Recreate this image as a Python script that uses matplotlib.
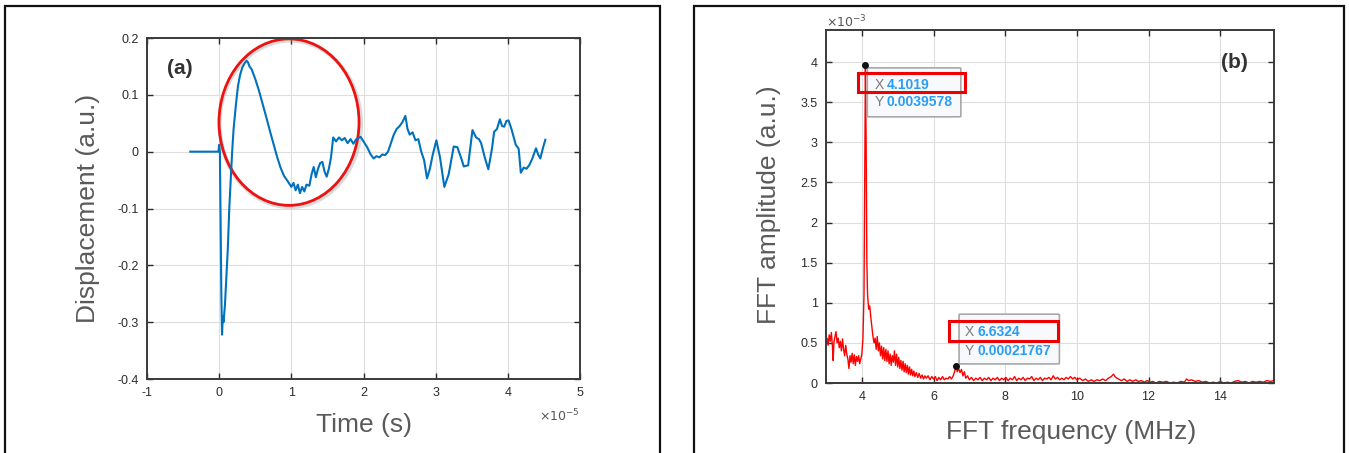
import matplotlib
matplotlib.use("Agg")
import matplotlib.pyplot as plt
from matplotlib import font_manager
from matplotlib.patches import Ellipse, Rectangle, FancyBboxPatch

# ---- data (a): displacement vs time, time in units of 1e-5 s
time_a = [-0.40, -0.01, 0.0, 0.01, 0.03, 0.04, 0.05, 0.06, 0.08, 0.10, 0.12, 0.14, 0.16, 0.18,
          0.20, 0.23, 0.26, 0.29, 0.32, 0.35, 0.38, 0.40, 0.42, 0.45, 0.50, 0.55, 0.60, 0.65,
          0.70, 0.75, 0.80, 0.85, 0.90, 0.95, 1.00, 1.03, 1.06, 1.09, 1.12, 1.15, 1.18, 1.21,
          1.25, 1.28, 1.31, 1.34, 1.37, 1.40, 1.43, 1.46, 1.49, 1.52, 1.55, 1.58, 1.62, 1.66,
          1.70, 1.74, 1.78, 1.82, 1.86, 1.90, 1.96, 2.00, 2.05, 2.10, 2.14, 2.18, 2.22, 2.26,
          2.30, 2.34, 2.38, 2.42, 2.46, 2.50, 2.54, 2.58, 2.61, 2.64, 2.68, 2.72, 2.76, 2.80,
          2.84, 2.88, 2.92, 2.96, 3.01, 3.06, 3.12, 3.18, 3.25, 3.30, 3.35, 3.39, 3.45, 3.51,
          3.56, 3.60, 3.63, 3.68, 3.73, 3.78, 3.81, 3.85, 3.89, 3.92, 3.95, 3.98, 4.01, 4.05,
          4.11, 4.15, 4.18, 4.22, 4.26, 4.30, 4.34, 4.39, 4.42, 4.45, 4.49, 4.52]
disp_a = [0.0, 0.0, 0.012, 0.0, -0.25, -0.322, -0.29, -0.30, -0.27, -0.22, -0.17, -0.10, -0.05, 0.0,
          0.04, 0.08, 0.115, 0.135, 0.148, 0.155, 0.160, 0.157, 0.150, 0.145, 0.128, 0.108, 0.085, 0.062,
          0.038, 0.015, -0.008, -0.028, -0.043, -0.052, -0.062, -0.055, -0.068, -0.058, -0.073, -0.062, -0.070, -0.058,
          -0.060, -0.040, -0.027, -0.045, -0.030, -0.020, -0.018, -0.035, -0.044, -0.030, -0.010, 0.025, 0.018, 0.025,
          0.020, 0.024, 0.015, 0.022, 0.014, 0.022, 0.026, 0.018, 0.008, -0.005, -0.012, -0.008, -0.010, -0.005,
          -0.006, 0.000, 0.015, 0.030, 0.040, 0.045, 0.052, 0.063, 0.040, 0.030, 0.034, 0.020, 0.022, 0.000,
          -0.015, -0.047, -0.030, -0.005, 0.020, -0.010, -0.062, -0.040, 0.009, 0.008, -0.010, -0.026, -0.024, 0.038,
          0.025, 0.022, 0.015, -0.010, -0.031, 0.005, 0.035, 0.040, 0.057, 0.045, 0.044, 0.054, 0.055, 0.040,
          0.012, 0.005, -0.037, -0.028, -0.030, -0.023, -0.012, 0.006, -0.005, -0.012, 0.008, 0.021]

# ---- data (b): FFT spectrum, (frequency MHz, amplitude in units of 1e-3)
fft_points = [
    (3.00, 0.50), (3.03, 0.56), (3.06, 0.47), (3.09, 0.60), (3.12, 0.52), (3.15, 0.63), (3.18, 0.45),
    (3.20, 0.28), (3.22, 0.50), (3.25, 0.58), (3.28, 0.64), (3.31, 0.50), (3.34, 0.56), (3.37, 0.44),
    (3.40, 0.52), (3.43, 0.40), (3.46, 0.55), (3.49, 0.42), (3.52, 0.34), (3.55, 0.47), (3.58, 0.36),
    (3.61, 0.30), (3.64, 0.18), (3.67, 0.34), (3.70, 0.26), (3.73, 0.37), (3.76, 0.24), (3.79, 0.35),
    (3.82, 0.22), (3.85, 0.33), (3.88, 0.27), (3.91, 0.34), (3.94, 0.24), (3.97, 0.30), (4.00, 0.36),
    (4.03, 0.55), (4.06, 1.10), (4.08, 2.50), (4.10, 3.96), (4.12, 3.00), (4.14, 1.50), (4.16, 1.10),
    (4.19, 0.92), (4.22, 0.96), (4.25, 0.82), (4.28, 0.70), (4.31, 0.58), (4.34, 0.50), (4.37, 0.56),
    (4.40, 0.42), (4.43, 0.58), (4.46, 0.40), (4.49, 0.50), (4.52, 0.34), (4.55, 0.46), (4.58, 0.30),
    (4.61, 0.44), (4.64, 0.28), (4.67, 0.42), (4.70, 0.27), (4.73, 0.40), (4.76, 0.24), (4.79, 0.36),
    (4.82, 0.22), (4.85, 0.34), (4.88, 0.26), (4.91, 0.40), (4.94, 0.22), (4.97, 0.36), (5.00, 0.20),
    (5.03, 0.32), (5.06, 0.18), (5.09, 0.28), (5.12, 0.16), (5.15, 0.27), (5.18, 0.14), (5.21, 0.24),
    (5.24, 0.13), (5.27, 0.22), (5.30, 0.11), (5.33, 0.20), (5.36, 0.10), (5.39, 0.17), (5.42, 0.09),
    (5.45, 0.15), (5.48, 0.08), (5.52, 0.13), (5.56, 0.07), (5.60, 0.12), (5.64, 0.06), (5.68, 0.10),
    (5.72, 0.05), (5.76, 0.09), (5.80, 0.06), (5.85, 0.09), (5.90, 0.04), (5.95, 0.08), (6.00, 0.05),
    (6.05, 0.08), (6.10, 0.03), (6.15, 0.07), (6.20, 0.04), (6.25, 0.08), (6.30, 0.04), (6.35, 0.06),
    (6.40, 0.05), (6.45, 0.08), (6.50, 0.05), (6.55, 0.09), (6.60, 0.16), (6.63, 0.22), (6.66, 0.14),
    (6.70, 0.18), (6.74, 0.13), (6.78, 0.17), (6.82, 0.09), (6.86, 0.14), (6.90, 0.06), (6.95, 0.09),
    (7.00, 0.04), (7.06, 0.07), (7.12, 0.03), (7.18, 0.06), (7.24, 0.04), (7.30, 0.07), (7.36, 0.03),
    (7.42, 0.06), (7.48, 0.04), (7.54, 0.07), (7.60, 0.03), (7.66, 0.06), (7.72, 0.04), (7.78, 0.07),
    (7.84, 0.03), (7.90, 0.06), (7.96, 0.04), (8.02, 0.07), (8.08, 0.03), (8.14, 0.06), (8.20, 0.04),
    (8.26, 0.08), (8.32, 0.03), (8.38, 0.06), (8.44, 0.04), (8.50, 0.07), (8.56, 0.03), (8.62, 0.06),
    (8.68, 0.05), (8.74, 0.08), (8.80, 0.03), (8.86, 0.06), (8.92, 0.04), (8.98, 0.07), (9.04, 0.03),
    (9.10, 0.06), (9.16, 0.05), (9.22, 0.07), (9.28, 0.04), (9.34, 0.09), (9.40, 0.05), (9.46, 0.07),
    (9.52, 0.04), (9.58, 0.06), (9.64, 0.04), (9.70, 0.07), (9.76, 0.05), (9.82, 0.08), (9.88, 0.05),
    (9.94, 0.07), (10.00, 0.04), (10.08, 0.06), (10.16, 0.03), (10.24, 0.05), (10.32, 0.02),
    (10.40, 0.04), (10.48, 0.02), (10.56, 0.04), (10.64, 0.03), (10.72, 0.05), (10.80, 0.03),
    (10.88, 0.06), (10.96, 0.08), (11.02, 0.11), (11.08, 0.07), (11.16, 0.05), (11.24, 0.03),
    (11.32, 0.05), (11.40, 0.02), (11.48, 0.04), (11.56, 0.02), (11.64, 0.04), (11.72, 0.02),
    (11.80, 0.03), (11.88, 0.01), (11.96, 0.03), (12.04, 0.01), (12.12, 0.02), (12.20, 0.00),
    (12.30, 0.02), (12.40, 0.01), (12.50, 0.02), (12.60, 0.00), (12.70, 0.01), (12.80, 0.00),
    (12.90, 0.02), (13.00, 0.01), (13.06, 0.05), (13.12, 0.03), (13.20, 0.04), (13.30, 0.02),
    (13.40, 0.03), (13.50, 0.01), (13.60, 0.02), (13.70, 0.00), (13.80, 0.01), (13.90, 0.00),
    (14.00, 0.02), (14.10, 0.00), (14.20, 0.01), (14.30, 0.00), (14.40, 0.02), (14.50, 0.03),
    (14.60, 0.01), (14.70, 0.02), (14.80, 0.00), (14.90, 0.02), (15.00, 0.01), (15.10, 0.02),
    (15.20, 0.01), (15.30, 0.03), (15.40, 0.02), (15.50, 0.03),
]
freq_b = [p[0] for p in fft_points]
amp_b = [p[1] for p in fft_points]

# data tips shown on (b): x in MHz, y as displayed
tip_x = [4.1019, 6.6324]
tip_y = [0.0039578, 0.00021767]
tip_x_txt = ["4.1019", "6.6324"]
tip_y_txt = ["0.0039578", "0.00021767"]

xticks_a = [-1, 0, 1, 2, 3, 4, 5]
yticks_a = [-0.4, -0.3, -0.2, -0.1, 0, 0.1, 0.2]
yticklabels_a = ["-0.4", "-0.3", "-0.2", "-0.1", "0", "0.1", "0.2"]
xticks_b = [4, 6, 8, 10, 12, 14]
yticks_b = [0, 0.5, 1, 1.5, 2, 2.5, 3, 3.5, 4]
yticklabels_b = ["0", "0.5", "1", "1.5", "2", "2.5", "3", "3.5", "4"]

# fonts: narrow look of the original if available
names = set(f.name for f in font_manager.fontManager.ttflist)
label_font = "Liberation Sans Narrow" if "Liberation Sans Narrow" in names else "Liberation Sans"
label_size = 22 if label_font == "Liberation Sans Narrow" else 19
plt.rcParams['font.family'] = ['Liberation Sans', 'DejaVu Sans']
plt.rcParams['axes.unicode_minus'] = False

W, H = 1349, 453
fig = plt.figure(figsize=(W / 100, H / 100), dpi=100)

# panel frames
for x0, x1 in [(5, 660), (694, 1344)]:
    fig.patches.append(Rectangle((x0 / W, -0.02), (x1 - x0) / W, 1.02 - 6 / H,
                                 transform=fig.transFigure, fill=False,
                                 edgecolor='#111111', linewidth=1.6))

ax1 = fig.add_axes([147 / W, 1 - 379 / H, 433 / W, 341 / H])
ax2 = fig.add_axes([826 / W, 1 - 383 / H, 448 / W, 353 / H])


def matlab_style(ax):
    ax.grid(True, color='#dedede', linewidth=0.8)
    ax.set_axisbelow(True)
    ax.tick_params(direction='in', top=True, right=True, length=4, width=1,
                   colors='#2b2b2b', labelsize=9, pad=6)
    for s in ax.spines.values():
        s.set_color('#3a3a3a')
        s.set_linewidth(1.4)


# ---- (a)
ax1.plot(time_a, disp_a, color='#0072BD', linewidth=1.5)
ax1.set_xlim(-1, 5)
ax1.set_ylim(-0.4, 0.2)
ax1.set_xticks(xticks_a)
ax1.set_yticks(yticks_a)
ax1.set_yticklabels(yticklabels_a)
matlab_style(ax1)
ax1.set_xlabel("Time (s)", fontsize=label_size, color='#5a5a5a', family=label_font)
ax1.set_ylabel("Displacement (a.u.)", fontsize=label_size, color='#5a5a5a', family=label_font)
ax1.xaxis.set_label_coords(0.501, -0.135)
ax1.xaxis.label.set_va('center')
ax1.yaxis.set_label_coords(-0.136, 0.5)
ax1.yaxis.label.set_va('center')
ax1.text(1.0, -0.108, r"$\times10^{-5}$", transform=ax1.transAxes, ha='right', va='center',
         fontsize=9, color='#555555')
ax1.text(0.076, 0.912, "(a)", transform=ax1.transAxes, ha='center', va='center',
         fontsize=15, fontweight='bold', color='#333333')
# highlighted region
ax1.add_patch(Ellipse((0.985, 0.049), 1.96, 0.293, fill=False, edgecolor='#999999',
                      linewidth=3, alpha=0.35))
ax1.add_patch(Ellipse((0.968, 0.052), 1.94, 0.293, fill=False, edgecolor='#ee1111',
                      linewidth=2))

# ---- (b)
ax2.plot(freq_b, amp_b, color='#ff0000', linewidth=1.0)
ax2.set_xlim(3, 15.5)
ax2.set_ylim(0, 4.4)
ax2.set_xticks(xticks_b)
ax2.set_yticks(yticks_b)
ax2.set_yticklabels(yticklabels_b)
matlab_style(ax2)
ax2.set_xlabel("FFT frequency (MHz)", fontsize=label_size, color='#5a5a5a', family=label_font)
ax2.set_ylabel("FFT amplitude (a.u.)", fontsize=label_size, color='#5a5a5a', family=label_font)
ax2.xaxis.set_label_coords(0.547, -0.139)
ax2.xaxis.label.set_va('center')
ax2.yaxis.set_label_coords(-0.127, 0.504)
ax2.yaxis.label.set_va('center')
ax2.text(0.0, 1.023, r"$\times10^{-3}$", transform=ax2.transAxes, ha='left', va='center',
         fontsize=9, color='#555555')
ax2.text(0.911, 0.909, "(b)", transform=ax2.transAxes, ha='center', va='center',
         fontsize=15, fontweight='bold', color='#333333')

# data tips: (box dx, box dy_top, box w, box h, red dx, red dy, red w, red h, row1 dy, row2 dy)
tip_layout = [(0.05, -0.03, 2.61, 0.61, -0.20, -0.33, 2.99, 0.24, -0.24, -0.46),
              (0.08, 0.64, 2.80, 0.62, -0.21, 0.305, 3.04, 0.25, 0.42, 0.18)]
for i in range(len(tip_x)):
    x = tip_x[i]
    y = tip_y[i] * 1e3
    bdx, bdy, bw, bh, rdx, rdy, rw, rh, r1, r2 = tip_layout[i]
    ax2.add_patch(FancyBboxPatch((x + bdx, y + bdy - bh), bw, bh,
                                 boxstyle="round,pad=0,rounding_size=0.06",
                                 facecolor='#f7f9fc', edgecolor='#a8a8a8', linewidth=1.2,
                                 zorder=4, mutation_aspect=0.1))
    ax2.add_patch(Rectangle((x + rdx, y + rdy), rw, rh, fill=False,
                            edgecolor='#ee0000', linewidth=2.2, zorder=6))
    ax2.text(x + 0.25, y + r1, "X", fontsize=10, color='#7a7a7a', va='center', zorder=5)
    ax2.text(x + 0.60, y + r1, tip_x_txt[i], fontsize=10, color='#2a9df4',
             fontweight='bold', va='center', zorder=5)
    ax2.text(x + 0.25, y + r2, "Y", fontsize=10, color='#7a7a7a', va='center', zorder=5)
    ax2.text(x + 0.60, y + r2, tip_y_txt[i], fontsize=10, color='#2a9df4',
             fontweight='bold', va='center', zorder=5)
    ax2.plot([x], [y], 'o', color='#111111', markersize=4, zorder=7)

fig.savefig("out.png", dpi=100)
